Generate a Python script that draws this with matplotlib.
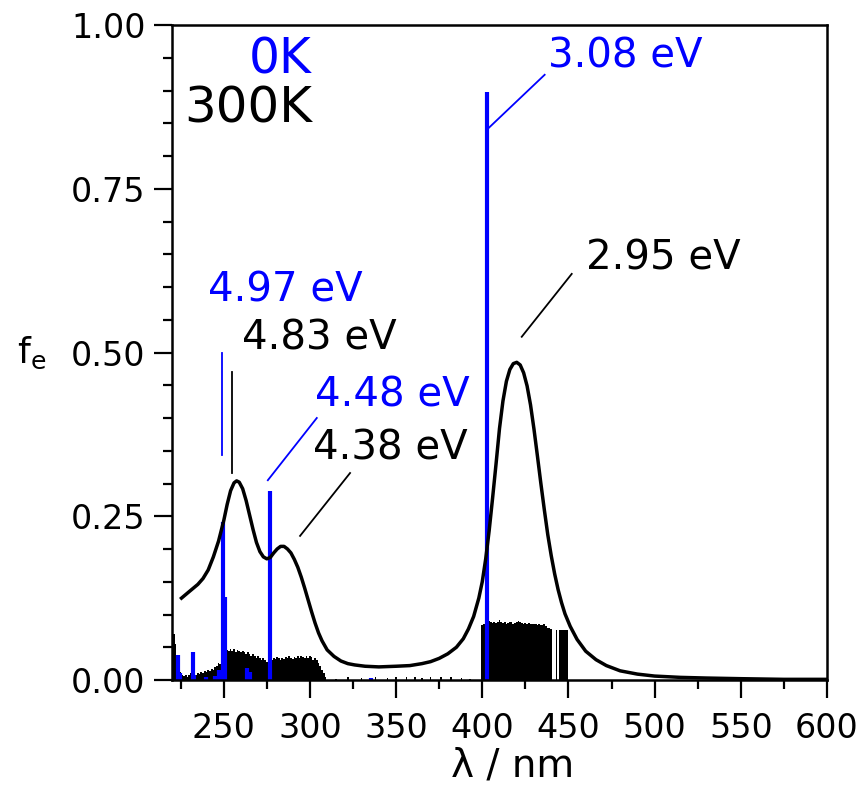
import numpy as np
import matplotlib
matplotlib.use('Agg')
import matplotlib.pyplot as plt
from matplotlib.ticker import MultipleLocator, FormatStrFormatter

# broadened 300K spectrum
curve_nm = [225.5, 230, 235, 238, 241, 244, 247, 250, 252, 254, 256, 257.5, 259, 261, 263,
            265, 267, 269, 271, 273, 275, 277, 279, 281, 283, 285, 287, 289, 291, 293,
            295, 297, 299, 301, 303, 305, 307, 310, 314, 318, 322, 326, 332, 340, 350,
            358, 365, 370, 375, 380, 385, 389, 392, 395, 398, 400, 402, 404, 406, 408,
            410, 412, 414, 416, 418, 420, 422, 424, 426, 428, 430, 432, 434, 436, 438,
            440, 442, 444, 446, 448, 451, 455, 460, 466, 472, 480, 490, 500, 515, 530,
            550, 575, 600]
curve_f = [0.125, 0.135, 0.146, 0.155, 0.168, 0.188, 0.212, 0.243, 0.268, 0.289, 0.301, 0.304, 0.302, 0.292, 0.274,
           0.252, 0.230, 0.210, 0.196, 0.188, 0.185, 0.187, 0.194, 0.200, 0.204, 0.204, 0.200, 0.194, 0.184, 0.172,
           0.157, 0.140, 0.122, 0.104, 0.087, 0.072, 0.060, 0.046, 0.036, 0.029, 0.025, 0.023, 0.021, 0.020, 0.021,
           0.022, 0.025, 0.028, 0.033, 0.040, 0.050, 0.063, 0.078, 0.097, 0.125, 0.150, 0.185, 0.228, 0.278, 0.330,
           0.384, 0.426, 0.456, 0.474, 0.483, 0.485, 0.481, 0.469, 0.449, 0.420, 0.383, 0.342, 0.300, 0.260, 0.222,
           0.190, 0.162, 0.138, 0.118, 0.101, 0.082, 0.062, 0.044, 0.031, 0.022, 0.014, 0.009, 0.006, 0.004, 0.003,
           0.002, 0.001, 0.001]

# 300K sampled sticks (1 nm bins)
sticks300_nm = list(range(220, 310)) + [315, 322, 330, 338, 345, 350, 356, 361, 365, 370, 376, 382, 388, 393] \
    + list(range(400, 441)) + [443, 445, 446, 447, 448, 449]
sticks300_f = [0.072, 0.070, 0.055, 0.030, 0.020, 0.012, 0.008, 0.006, 0.008, 0.005,
               0.007, 0.010, 0.009, 0.006, 0.008, 0.010, 0.009, 0.012, 0.011, 0.014,
               0.012, 0.015, 0.013, 0.017, 0.016, 0.020, 0.022, 0.026, 0.024, 0.030,
               0.028, 0.034, 0.046, 0.044, 0.048, 0.045, 0.047, 0.043, 0.046, 0.044,
               0.042, 0.045, 0.043, 0.040, 0.042, 0.039, 0.037, 0.040, 0.036, 0.034,
               0.036, 0.033, 0.031, 0.033, 0.030, 0.028, 0.031, 0.033, 0.030, 0.034,
               0.032, 0.035, 0.033, 0.031, 0.034, 0.032, 0.035, 0.033, 0.036, 0.034,
               0.032, 0.035, 0.033, 0.036, 0.034, 0.037, 0.035, 0.033, 0.036, 0.034,
               0.037, 0.035, 0.031, 0.034, 0.030, 0.026, 0.022, 0.016, 0.010, 0.004,
               0.002, 0.004, 0.003, 0.004, 0.003, 0.004, 0.005, 0.004, 0.003, 0.005,
               0.004, 0.005, 0.003, 0.002,
               0.084, 0.086, 0.087, 0.088, 0.090, 0.089, 0.087, 0.088, 0.087, 0.089,
               0.091, 0.088, 0.087, 0.088, 0.086, 0.087, 0.089, 0.088, 0.086, 0.087,
               0.088, 0.090, 0.088, 0.087, 0.086, 0.087, 0.086, 0.087, 0.085, 0.086,
               0.085, 0.086, 0.084, 0.085, 0.084, 0.084, 0.085, 0.083, 0.080, 0.079,
               0.078, 0.076, 0.077, 0.076, 0.077, 0.076, 0.076]

# 0K vertical transitions
sticks0_nm = [223.5, 224.5, 232.2, 233.0, 240.0, 245.0, 247.5, 249.5, 250.8, 263.5, 265.0, 276.75, 335.7, 402.55]
sticks0_f = [0.038, 0.010, 0.043, 0.008, 0.004, 0.006, 0.015, 0.241, 0.127, 0.018, 0.012, 0.289, 0.003, 0.897]

fig = plt.figure(figsize=(8.62, 7.89), dpi=100)
ax = fig.add_axes([172 / 862, 109 / 789, 655 / 862, 655 / 789])

ax.bar(sticks300_nm, sticks300_f, width=1.0, color='black', linewidth=0)
ax.vlines(sticks0_nm, 0, sticks0_f, color='#0000ff', linewidth=3.0)
ax.plot(curve_nm, curve_f, color='black', linewidth=2.5)

# peak labels
blue = '#0000ff'
ax.plot([402.6, 436.2], [0.840, 0.924], color=blue, lw=1.3)
ax.text(438.0, 0.952, '3.08 eV', color=blue, fontsize=29, ha='left', va='center')
ax.plot([422.9, 451.9], [0.524, 0.620], color='black', lw=1.3)
ax.text(460.4, 0.644, '2.95 eV', color='black', fontsize=29, ha='left', va='center')
ax.plot([249.0, 249.0], [0.344, 0.499], color=blue, lw=1.3)
ax.text(240.8, 0.594, '4.97 eV', color=blue, fontsize=29, ha='left', va='center')
ax.plot([254.8, 254.8], [0.316, 0.470], color='black', lw=1.3)
ax.text(260.6, 0.522, '4.83 eV', color='black', fontsize=29, ha='left', va='center')
ax.plot([275.6, 304.0], [0.305, 0.400], color=blue, lw=1.3)
ax.text(302.9, 0.434, '4.48 eV', color=blue, fontsize=29, ha='left', va='center')
ax.plot([294.3, 323.3], [0.220, 0.316], color='black', lw=1.3)
ax.text(301.7, 0.353, '4.38 eV', color='black', fontsize=29, ha='left', va='center')

ax.text(301.1, 0.948, '0K', color=blue, fontsize=35, ha='right', va='center')
ax.text(301.1, 0.873, '300K', color='black', fontsize=36, ha='right', va='center')

ax.set_xlim(220, 600)
ax.set_ylim(0, 1)
ax.xaxis.set_major_locator(MultipleLocator(50))
ax.xaxis.set_minor_locator(MultipleLocator(25))
ax.yaxis.set_major_locator(MultipleLocator(0.25))
ax.yaxis.set_minor_locator(MultipleLocator(0.05))
ax.yaxis.set_major_formatter(FormatStrFormatter('%.2f'))
ax.tick_params(which='major', direction='out', length=13, width=1.6, labelsize=24, pad=6)
ax.tick_params(which='minor', direction='out', length=6.5, width=1.6)
ax.tick_params(axis='x', which='major', pad=10)
for s in ax.spines.values():
    s.set_linewidth(1.8)

ax.set_xlabel('λ / nm', fontsize=28)
ax.xaxis.set_label_coords(0.52, -0.102)
ax.set_ylabel('$\\mathregular{f_e}$', fontsize=26, rotation=0, va='center')
ax.yaxis.set_label_coords(-0.215, 0.5)

fig.savefig('out.png', dpi=100)
